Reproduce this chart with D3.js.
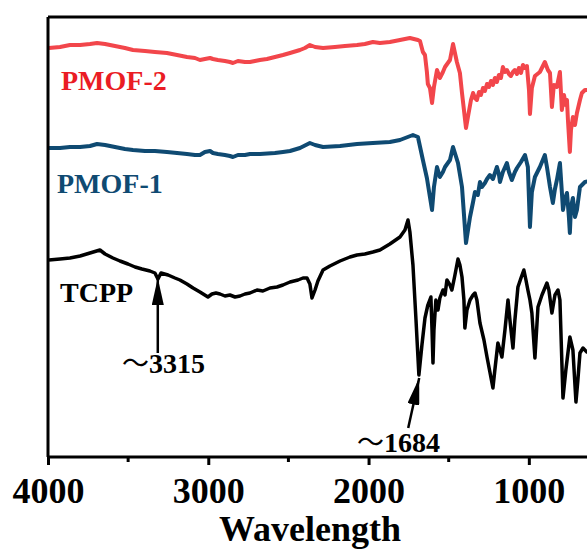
<!DOCTYPE html>
<html><head><meta charset="utf-8">
<script src="https://cdn.jsdelivr.net/npm/d3@7"></script>
<style>html,body{margin:0;padding:0;background:#fff;overflow:hidden}</style>
</head><body><div id="chart"></div>
<script>
// wavenumber (cm-1) and intensity (a.u.)
const wnPMOF2 = [3994,3925,3863,3800,3738,3694,3644,3582,3520,3470,3395,3333,3258,3195,3133,3083,3052,3021,2989,2971,2940,2896,2865,2846,2815,2771,2740,2709,2678,2634,2584,2534,2490,2428,2397,2366,2334,2284,2210,2147,2072,2023,1973,1929,1867,1804,1742,1692,1679,1661,1648,1636,1630,1617,1604,1592,1573,1555,1536,1523,1492,1473,1449,1430,1417,1392,1380,1361,1348,1336,1324,1311,1299,1286,1274,1261,1249,1236,1224,1212,1199,1187,1174,1162,1149,1137,1124,1112,1099,1087,1074,1062,1049,1037,1024,1012,999,993,981,962,931,900,881,868,856,844,825,806,794,781,769,762,756,744,737,725,712,700,681,669,650,638,588];
const valPMOF2 = [409,410,412,412,413,414,413,411,409,407,406,405,404,402,400,399,397,398,399,398,397,396,395,394,396,395,395,396,397,398,400,402,404,407,409,412,410,409,410,411,412,413,415,414,415,417,419,417,416,405,402,385,373,369,354,370,387,379,385,390,397,413,395,384,364,329,340,357,364,359,357,365,362,369,366,373,370,376,372,379,375,382,379,390,385,387,383,381,385,387,383,389,384,392,389,391,367,343,369,381,385,395,387,384,350,372,370,385,347,362,352,357,337,305,327,340,332,344,357,364,367,367,369];

const wnPMOF1 = [3994,3925,3863,3800,3738,3694,3644,3582,3520,3470,3395,3333,3258,3195,3133,3083,3052,3021,2989,2971,2940,2896,2865,2846,2815,2771,2740,2678,2584,2534,2490,2428,2366,2334,2284,2178,2072,1973,1867,1804,1723,1692,1661,1636,1617,1604,1592,1573,1555,1536,1523,1492,1473,1442,1417,1392,1367,1348,1336,1318,1305,1293,1274,1261,1243,1224,1199,1187,1180,1162,1137,1124,1106,1087,1074,1049,1024,1006,993,981,962,931,900,887,868,850,837,825,806,794,787,775,762,750,744,737,725,712,700,681,650,588];
const valPMOF1 = [309,309,310,310,311,313,312,310,308,307,306,306,305,304,303,302,302,305,306,304,303,302,301,300,302,302,303,303,304,305,306,309,314,312,310,311,313,314,315,317,322,320,297,279,260,247,270,290,280,285,290,297,310,294,270,214,240,255,265,262,275,270,274,278,282,278,290,283,275,285,294,285,277,285,289,295,302,290,230,265,280,290,302,290,270,254,268,277,294,265,247,258,264,240,224,250,259,240,247,270,275,277];

const wnTCPP = [3994,3925,3863,3800,3738,3676,3644,3595,3551,3501,3457,3414,3364,3333,3314,3295,3251,3208,3177,3133,3095,3052,3002,2977,2952,2927,2896,2865,2833,2802,2771,2740,2696,2659,2615,2571,2534,2490,2440,2409,2384,2366,2353,2334,2316,2284,2241,2178,2116,2072,2023,1973,1929,1867,1804,1773,1754,1742,1723,1704,1686,1667,1648,1630,1611,1604,1598,1592,1580,1567,1555,1536,1523,1511,1492,1480,1461,1442,1430,1417,1405,1399,1386,1367,1348,1336,1324,1305,1280,1261,1243,1224,1212,1193,1180,1168,1149,1130,1118,1099,1087,1068,1049,1031,1018,1006,993,981,962,943,918,887,875,856,837,818,806,787,769,744,725,706,694,681,662,638,588];
const valTCPP = [197,198,199,201,204,207,203,199,196,193,190,188,186,184,178,184,182,179,177,173,169,165,160,163,164,163,161,162,160,161,163,164,167,166,169,170,172,175,177,179,179,173,159,167,176,187,191,196,200,202,203,205,207,213,220,227,237,225,192,137,82,112,139,152,160,127,94,127,157,147,159,167,162,177,172,167,182,198,192,180,157,129,147,157,162,164,157,134,117,100,85,69,87,114,107,100,127,157,137,109,137,170,179,187,177,167,157,144,99,150,162,174,167,144,162,167,157,59,87,120,107,55,77,104,109,105,107];

const seriesNames = ["PMOF-2","PMOF-1","TCPP"];
const xTicksMajor = [4000,3000,2000,1000];
const xTicksMinor = [3500,2500,1500,500];
const annWn = [3315,1684];
const annNumbers = ["3315","1684"];

const W = 587, H = 554;
const svg = d3.select("#chart").append("svg").attr("width",W).attr("height",H)
  .attr("font-family","'Liberation Serif','Times New Roman',serif").attr("font-weight","bold");

const x = d3.scaleLinear().domain([4000,400]).range([48,625]);
const y = d3.scaleLinear().domain([0,440]).range([457,17]);

const series = [
  {name:seriesNames[0], wn:wnPMOF2, v:valPMOF2, color:"#f2464b", text:"#ea1c24", w:4, lx:61, ly:90},
  {name:seriesNames[1], wn:wnPMOF1, v:valPMOF1, color:"#0f4a72", text:"#0f4a72", w:4, lx:57, ly:193},
  {name:seriesNames[2], wn:wnTCPP, v:valTCPP, color:"#000000", text:"#000000", w:3.5, lx:60, ly:302}
];

const line = d3.line().x(d=>x(d[0])).y(d=>y(d[1]));
series.forEach(s=>{
  const pts = s.wn.map((w,i)=>[w,s.v[i]]);
  svg.append("path").datum(pts).attr("d",line).attr("fill","none")
    .attr("stroke",s.color).attr("stroke-width",s.w).attr("stroke-linejoin","round");
  svg.append("text").attr("x",s.lx).attr("y",s.ly).attr("fill",s.text)
    .attr("font-size",28).text(s.name);
});

// frame
svg.append("line").attr("x1",x(4000)).attr("x2",W+5).attr("y1",17).attr("y2",17).attr("stroke","#000").attr("stroke-width",3);
svg.append("line").attr("x1",x(4000)).attr("x2",x(4000)).attr("y1",17).attr("y2",457).attr("stroke","#000").attr("stroke-width",3);

// x axis
const axis = svg.append("g").attr("transform","translate(0,457)")
  .call(d3.axisBottom(x).tickValues(xTicksMajor).tickSize(8).tickPadding(12).tickFormat(d3.format("d")));
axis.select(".domain").attr("stroke-width",3).attr("d","M"+x(4000)+",0H"+(W+5));
axis.selectAll(".tick line").attr("stroke-width",3);
axis.selectAll(".tick text").attr("font-size",36).attr("font-family","'Liberation Serif',serif").attr("font-weight","bold").attr("fill","#000");
svg.append("g").selectAll("line").data(xTicksMinor).join("line")
  .attr("x1",d=>x(d)).attr("x2",d=>x(d)).attr("y1",457).attr("y2",462).attr("stroke","#000").attr("stroke-width",3);

svg.append("text").attr("x",310).attr("y",541).attr("text-anchor","middle").attr("font-size",36).text("Wavelength");

// annotations
const defs = svg.append("defs");
defs.append("marker").attr("id","ah").attr("viewBox","0 0 27 12").attr("refX",27).attr("refY",6)
  .attr("markerWidth",27).attr("markerHeight",12).attr("markerUnits","userSpaceOnUse").attr("orient","auto")
  .append("path").attr("d","M0,0L27,6L0,12Z").attr("fill","#000");

const ann = [
  {wn:annWn[0], num:annNumbers[0], tip:[0,278], tail:[0,353], tx:122, ty:373},
  {wn:annWn[1], num:annNumbers[1], tip:[0,378], tail:[-11,428], tx:357, ty:452}
];
ann.forEach(a=>{
  const xp = x(a.wn);
  svg.append("line").attr("x1",xp+a.tail[0]).attr("y1",a.tail[1]).attr("x2",xp+a.tip[0]).attr("y2",a.tip[1])
    .attr("stroke","#000").attr("stroke-width",2.5).attr("marker-end","url(#ah)");
  const t = svg.append("text").attr("x",a.tx).attr("y",a.ty).attr("font-size",28);
  t.append("tspan").attr("font-family","'Noto Sans CJK SC'").attr("font-weight","normal").attr("font-size",27).text("～");
  t.append("tspan").text(a.num);
});
</script></body></html>
